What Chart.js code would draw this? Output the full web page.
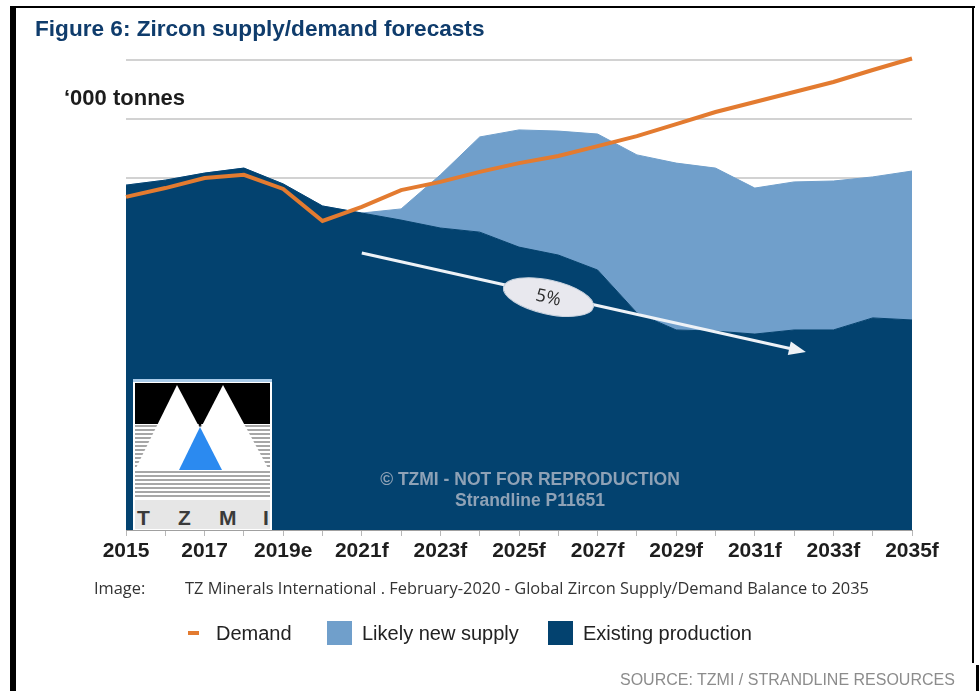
<!DOCTYPE html>
<html>
<head>
<meta charset="utf-8">
<script src="https://cdn.jsdelivr.net/npm/chart.js@4.4.1/dist/chart.umd.min.js"></script>
<style>
  body { margin: 0; background: #fff; font-family: "Liberation Sans", Arial, sans-serif; }
  #page { position: relative; width: 979px; height: 691px; overflow: hidden; }
  #wrap { position: absolute; left: 0; top: 0; width: 979px; height: 691px; }
  .bar { position: absolute; background: #000; }
  #title { position: absolute; left: 35px; top: 16px; font-size: 22.6px; line-height: 26px; font-weight: bold; color: #0f3c6c; }
  #unit { position: absolute; left: 64px; top: 87px; font-size: 22px; line-height: 22px; font-weight: bold; color: #1c1c1c; }
  #logo { position: absolute; left: 133px; top: 379px; }
  .wm { position: absolute; left: 280px; width: 500px; text-align: center; font-weight: bold; font-size: 17.5px; color: #8fa2b6; }
  .cap { position: absolute; top: 578px; font-family: "Open Sans", sans-serif; font-size: 16.4px; line-height: 20px; color: #333; }
  .lg { position: absolute; top: 621px; font-size: 20px; line-height: 24px; color: #222; }
  .sw { position: absolute; }
  #source { position: absolute; left: 620px; top: 671px; font-size: 16px; line-height: 18px; color: #8c8c8c; }
</style>
</head>
<body>
<div id="page">
  <div id="wrap"><canvas id="myChart"></canvas></div>

  <div class="bar" style="left:10px;top:6px;width:965px;height:2px"></div>
  <div class="bar" style="left:10px;top:6px;width:6px;height:685px"></div>
  <div class="bar" style="left:972px;top:6px;width:2px;height:657px"></div>
  <div class="bar" style="left:976px;top:665px;width:3px;height:26px"></div>

  <div id="title">Figure 6: Zircon supply/demand forecasts</div>
  <div id="unit">‘000 tonnes</div>

  <svg id="logo" width="139" height="151" viewBox="0 0 139 151">
    <rect x="0" y="0" width="139" height="151" fill="#fff"/>
    <rect x="0" y="0" width="139" height="3" fill="#a9cbe9"/>
    <g stroke="#8a8a8a" stroke-width="1.4">
      <line x1="2" y1="47" x2="137" y2="47"/><line x1="2" y1="51" x2="137" y2="51"/>
      <line x1="2" y1="55" x2="137" y2="55"/><line x1="2" y1="59" x2="137" y2="59"/>
      <line x1="2" y1="63" x2="137" y2="63"/><line x1="2" y1="67" x2="137" y2="67"/>
      <line x1="2" y1="71" x2="137" y2="71"/><line x1="2" y1="75" x2="137" y2="75"/>
      <line x1="2" y1="79" x2="137" y2="79"/><line x1="2" y1="83" x2="137" y2="83"/>
      <line x1="2" y1="87" x2="137" y2="87"/><line x1="2" y1="93" x2="137" y2="93"/>
      <line x1="2" y1="97" x2="137" y2="97"/><line x1="2" y1="101" x2="137" y2="101"/>
      <line x1="2" y1="105" x2="137" y2="105"/><line x1="2" y1="109" x2="137" y2="109"/>
      <line x1="2" y1="113" x2="137" y2="113"/><line x1="2" y1="117" x2="137" y2="117"/>
    </g>
    <rect x="2" y="4" width="135" height="41" fill="#000"/>
    <polygon points="44,5 89,5 67,48" fill="#000"/>
    <polygon points="44,6 2,91 89,91" fill="#fff"/>
    <polygon points="90,6 46,91 136,91" fill="#fff"/>
    <polygon points="67,48 46,91 89,91" fill="#2b8af0"/>
    <rect x="2" y="121" width="135" height="29" fill="#e6e6e6"/>
    <g font-family="Liberation Sans, Arial, sans-serif" font-weight="bold" font-size="21" fill="#3a3a3a">
      <text x="4" y="146">T</text><text x="45" y="146">Z</text>
      <text x="86" y="146">M</text><text x="130" y="146">I</text>
    </g>
  </svg>

  <div class="wm" style="top:469px">© TZMI - NOT FOR REPRODUCTION</div>
  <div class="wm" style="top:490px">Strandline P11651</div>

  <div class="cap" style="left:94px">Image:</div>
  <div class="cap" style="left:185px">TZ Minerals International . February-2020 - Global Zircon Supply/Demand Balance to 2035</div>

  <div class="sw" style="left:188px;top:631px;width:11px;height:4px;background:#e37b30"></div>
  <div class="lg" style="left:216px">Demand</div>
  <div class="sw" style="left:327px;top:621px;width:25px;height:24px;background:#709fcb"></div>
  <div class="lg" style="left:362px">Likely new supply</div>
  <div class="sw" style="left:548px;top:621px;width:25px;height:24px;background:#03426f"></div>
  <div class="lg" style="left:583px">Existing production</div>

  <div id="source">SOURCE: TZMI / STRANDLINE RESOURCES</div>
</div>

<script>
const years = ['2015', '2016', '2017', '2018', '2019e', '2020f', '2021f', '2022f', '2023f', '2024f', '2025f',
               '2026f', '2027f', '2028f', '2029f', '2030f', '2031f', '2032f', '2033f', '2034f', '2035f'];
// '000 tonnes
const existingProduction = [1174, 1191, 1215, 1232, 1178, 1103, 1079, 1055, 1028, 1014, 963,
                            936, 885, 739, 681, 677, 667, 681, 681, 722, 715];
const likelyNewSupply = [0, 0, 0, 0, 0, 0, 0, 38, 181, 324, 399,
                         422, 463, 538, 568, 555, 497, 504, 507, 480, 507];
const demand = [1134, 1164, 1198, 1209, 1161, 1052, 1100, 1157, 1185, 1219, 1249,
                1273, 1307, 1341, 1382, 1423, 1457, 1491, 1525, 1566, 1605];

// the hand drawn 5% decline arrow, in (year index, value)
const trendFrom = [6, 943];
const trendTo = [17.3, 606];
const trendLabelAt = [10.75, 793];
const trendLabel = '5%';

const trendPlugin = {
    id: 'trend',
    afterDatasetsDraw(chart) {
        const { ctx, scales: { x, y } } = chart;
        const x1 = x.getPixelForValue(trendFrom[0]), y1 = y.getPixelForValue(trendFrom[1]);
        const x2 = x.getPixelForValue(trendTo[0]), y2 = y.getPixelForValue(trendTo[1]);
        const ang = Math.atan2(y2 - y1, x2 - x1);
        ctx.save();
        ctx.strokeStyle = '#eef2f7';
        ctx.fillStyle = '#eef2f7';
        ctx.lineWidth = 3;
        ctx.beginPath();
        ctx.moveTo(x1, y1);
        ctx.lineTo(x2 - 14 * Math.cos(ang), y2 - 14 * Math.sin(ang));
        ctx.stroke();
        // arrow head
        ctx.translate(x2, y2);
        ctx.rotate(ang);
        ctx.beginPath();
        ctx.moveTo(0, 0);
        ctx.lineTo(-17, -7);
        ctx.lineTo(-17, 7);
        ctx.closePath();
        ctx.fill();
        ctx.restore();

        // the ellipse with the rate
        const cx = x.getPixelForValue(trendLabelAt[0]), cy = y.getPixelForValue(trendLabelAt[1]);
        ctx.save();
        ctx.translate(cx, cy);
        ctx.rotate(ang);
        ctx.beginPath();
        ctx.ellipse(0, 0, 46, 17, 0, 0, Math.PI * 2);
        ctx.fillStyle = '#e8e8ee';
        ctx.fill();
        ctx.strokeStyle = '#c9d3df';
        ctx.lineWidth = 1;
        ctx.stroke();
        ctx.fillStyle = '#2a2a2a';
        ctx.font = '18px "Open Sans", sans-serif';
        ctx.textAlign = 'center';
        ctx.textBaseline = 'middle';
        ctx.fillText(trendLabel, 0, 1);
        ctx.restore();
    }
};

document.addEventListener("DOMContentLoaded", function () {
    const ctx = document.getElementById("myChart").getContext("2d");

    new Chart(ctx, {
        type: "line",
        data: {
            labels: years,
            datasets: [
                {
                    label: "Existing production",
                    data: existingProduction,
                    stack: "supply",
                    order: 1,
                    fill: "origin",
                    backgroundColor: "#03426f",
                    borderColor: "#03426f",
                    borderWidth: 1,
                    pointRadius: 0,
                    tension: 0
                },
                {
                    label: "Likely new supply",
                    data: likelyNewSupply,
                    stack: "supply",
                    order: 1,
                    fill: "-1",
                    backgroundColor: "#709fcb",
                    borderColor: "#709fcb",
                    borderWidth: 1,
                    pointRadius: 0,
                    tension: 0
                },
                {
                    label: "Demand",
                    data: demand,
                    stack: "demand",
                    order: 0,
                    fill: false,
                    borderColor: "#e37b30",
                    borderWidth: 4,
                    pointRadius: 0,
                    tension: 0,
                    clip: false
                }
            ]
        },
        options: {
            responsive: true,
            maintainAspectRatio: false,
            animation: false,
            layout: { padding: { left: 126, right: 67, top: 60, bottom: 0 } },
            plugins: {
                legend: { display: false },
                tooltip: { enabled: false }
            },
            scales: {
                x: {
                    offset: false,
                    grid: { drawOnChartArea: false, drawTicks: true, tickLength: 6, color: "#b8b8b8" },
                    border: { display: true, color: "#a0a0a0", width: 1 },
                    ticks: {
                        autoSkip: false,
                        maxRotation: 0,
                        padding: 3,
                        color: "#1e1e1e",
                        font: { family: "'Liberation Sans', Arial, sans-serif", size: 21, weight: "bold" },
                        callback: (v, i) => (i % 2 === 0 ? years[i] : "")
                    },
                    afterFit: s => { s.height = 161; }
                },
                y: {
                    stacked: true,
                    min: 0,
                    max: 1600,
                    ticks: { display: false, stepSize: 200 },
                    grid: { color: "#d2d2d2", lineWidth: 2, drawTicks: false },
                    border: { display: false },
                    afterFit: s => { s.width = 0; }
                }
            }
        },
        plugins: [trendPlugin]
    });
});
</script>
</body>
</html>
